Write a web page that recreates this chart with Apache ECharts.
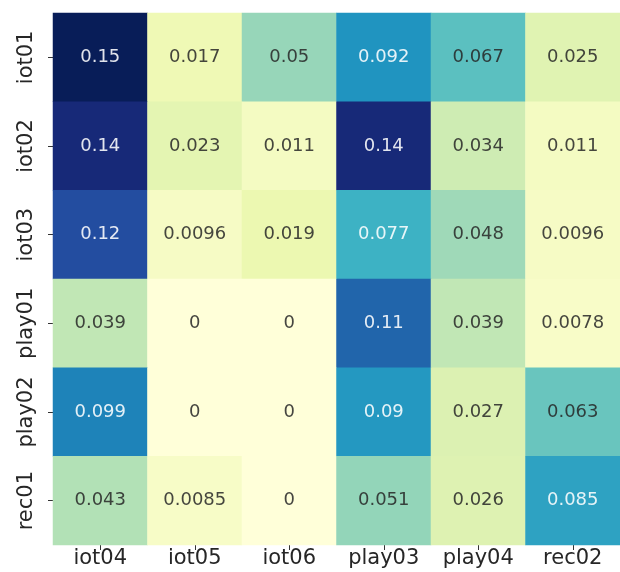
<!DOCTYPE html>
<html>
<head>
<meta charset="utf-8">
<script src="https://cdn.jsdelivr.net/npm/echarts@6/dist/echarts.min.js"></script>
<style>
  html, body { margin: 0; padding: 0; background: #ffffff; }
  #chart { width: 620px; height: 572px; }
</style>
</head>
<body>
<div id="chart"></div>
<script>
// Row and column labels of the matrix
const rowLabels = ['iot01', 'iot02', 'iot03', 'play01', 'play02', 'rec01'];
const colLabels = ['iot04', 'iot05', 'iot06', 'play03', 'play04', 'rec02'];

// One array per row, values in column order
const iot01 = [0.15, 0.017, 0.05, 0.092, 0.067, 0.025];
const iot02 = [0.14, 0.023, 0.011, 0.14, 0.034, 0.011];
const iot03 = [0.12, 0.0096, 0.019, 0.077, 0.048, 0.0096];
const play01 = [0.039, 0, 0, 0.11, 0.039, 0.0078];
const play02 = [0.099, 0, 0, 0.09, 0.027, 0.063];
const rec01 = [0.043, 0.0085, 0, 0.051, 0.026, 0.085];

const rows = [iot01, iot02, iot03, play01, play02, rec01];

// YlGnBu colour ramp
const ylGnBu = ['#ffffd9', '#edf8b1', '#c7e9b4', '#7fcdbb', '#41b6c4', '#1d91c0', '#225ea8', '#253494', '#081d58'];

const cells = [];
rows.forEach((row, r) => {
  row.forEach((v, c) => {
    cells.push({
      value: [c, r, v],
      label: { color: v > 0.07 ? 'rgba(255,255,255,0.88)' : 'rgba(38,38,38,0.85)' }
    });
  });
});

const FONT = 'DejaVu Sans';
const chart = echarts.init(document.getElementById('chart'), null, { renderer: 'canvas' });
chart.setOption({
  backgroundColor: '#ffffff',
  animation: false,
  grid: { left: 53, top: 13, width: 574, height: 532 },
  xAxis: {
    type: 'category',
    data: colLabels,
    position: 'bottom',
    axisLine: { show: false },
    axisTick: { show: true, alignWithLabel: true, length: 5, lineStyle: { color: '#333333', width: 1 } },
    axisLabel: { color: '#262626', fontFamily: FONT, fontSize: 21, margin: 3, interval: 0 },
    splitLine: { show: false }
  },
  yAxis: {
    type: 'category',
    data: rowLabels,
    inverse: true,
    axisLine: { show: false },
    axisTick: { show: true, alignWithLabel: true, length: 5, lineStyle: { color: '#333333', width: 1 } },
    axisLabel: { color: '#262626', fontFamily: FONT, fontSize: 21, rotate: 90, margin: 16, interval: 0 },
    splitLine: { show: false }
  },
  visualMap: {
    show: false,
    type: 'continuous',
    min: 0,
    max: 0.15,
    dimension: 2,
    inRange: { color: ylGnBu }
  },
  series: [{
    type: 'heatmap',
    data: cells,
    label: {
      show: true,
      fontFamily: FONT,
      fontSize: 18,
      formatter: (p) => String(p.value[2])
    },
    itemStyle: { borderWidth: 0 },
    emphasis: { disabled: true }
  }]
});
</script>
</body>
</html>
